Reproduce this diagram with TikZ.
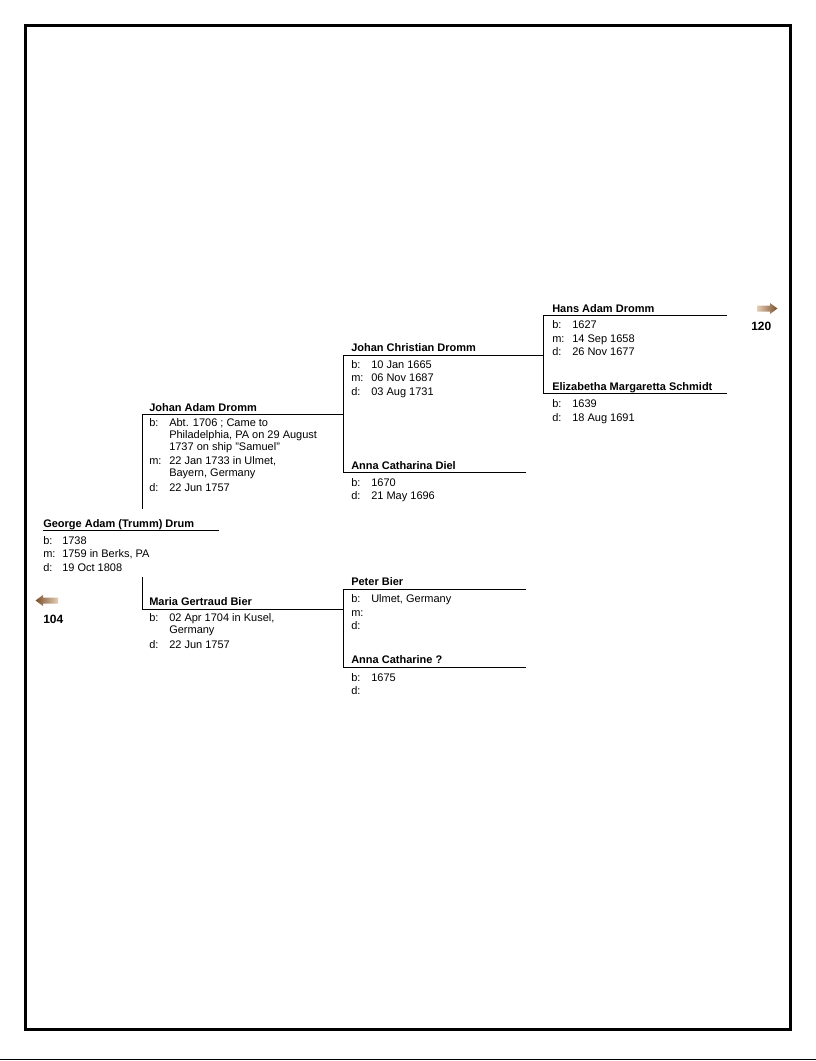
\documentclass[tikz,border=0pt]{standalone}
\usepackage{fontspec}
\setmainfont{Liberation Sans}
\definecolor{arrowdark}{RGB}{122,80,44}
\definecolor{arrowlight}{RGB}{228,206,182}

\tikzset{%
  % Specifications for style of nodes:
        person/.style = {anchor=base west, inner sep=0pt, font=\fontsize{8.25pt}{10pt}\selectfont\bfseries},
        detail/.style = {anchor=base west, inner sep=0pt, font=\fontsize{8.25pt}{10pt}\selectfont},
       pagenum/.style = {anchor=base west, inner sep=0pt, font=\fontsize{9pt}{11pt}\selectfont\bfseries},
          link/.style = {line width=0.75pt},
     nextarrow/.style = {left color=arrowlight, right color=arrowdark},
     prevarrow/.style = {left color=arrowdark, right color=arrowlight},
}

\begin{document}
\begin{tikzpicture}[x=0.75pt, y=-0.75pt]
    \useasboundingbox (0,0) rectangle (816,1061);

    % Page frame
    \draw[line width=2.25pt] (25.5,25.5) rectangle (790.5,1029.5);
    \draw[line width=1.2pt] (0,1059.5) -- (816,1059.5);

    % Line ends
    \coordinate (george-l)    at (43,530.5);  \coordinate (george-r)    at (219,530.5);
    \coordinate (george-up)   at (142,509);   \coordinate (george-down) at (142,577);
    \coordinate (johanadam-l) at (142,414);   \coordinate (johanadam-r) at (343,414);
    \coordinate (maria-l)     at (142,609);   \coordinate (maria-r)     at (343,609);
    \coordinate (johanchr-l)  at (343,355);   \coordinate (johanchr-r)  at (543,355);
    \coordinate (annadiel-l)  at (343,472);   \coordinate (annadiel-r)  at (526,472);
    \coordinate (peter-l)     at (343,589);   \coordinate (peter-r)     at (526,589);
    \coordinate (annacath-l)  at (343,667);   \coordinate (annacath-r)  at (526,667);
    \coordinate (hans-l)      at (543,315);   \coordinate (hans-r)      at (727,315);
    \coordinate (eliz-l)      at (543,393);   \coordinate (eliz-r)      at (727,393);

    % Draw nodes
    \node (george)    [person] at (43,527.5)  {George Adam (Trumm) Drum};
    \foreach \lab/\val/\yy [count=\i] in {b:/1738/544.5, m:/{1759 in Berks, PA}/557.5, d:/19 Oct 1808/571}
      {\node (george-t\i) [detail] at (43,\yy) {\lab};
       \node (george-v\i) [detail] at (62,\yy) {\val};}

    \node (johanadam) [person] at (149,411)   {Johan Adam Dromm};
    \foreach \lab/\val/\yy [count=\i] in {b:/Abt. 1706 ; Came to/426.5, /{Philadelphia, PA on 29 August}/438.5,
        /1737 on ship "Samuel"/450, m:/{22 Jan 1733 in Ulmet,}/464.5, /{Bayern, Germany}/476, d:/22 Jun 1757/491}
      {\node (johanadam-t\i) [detail] at (149,\yy) {\lab};
       \node (johanadam-v\i) [detail] at (169,\yy) {\val};}

    \node (maria)     [person] at (149,605.5) {Maria Gertraud Bier};
    \foreach \lab/\val/\yy [count=\i] in {b:/{02 Apr 1704 in Kusel,}/621.5, /Germany/633, d:/22 Jun 1757/648}
      {\node (maria-t\i) [detail] at (149,\yy) {\lab};
       \node (maria-v\i) [detail] at (169,\yy) {\val};}

    \node (johanchr)  [person] at (351,351.5) {Johan Christian Dromm};
    \foreach \lab/\val/\yy [count=\i] in {b:/10 Jan 1665/368, m:/06 Nov 1687/381.5, d:/03 Aug 1731/395}
      {\node (johanchr-t\i) [detail] at (351,\yy) {\lab};
       \node (johanchr-v\i) [detail] at (371,\yy) {\val};}

    \node (annadiel)  [person] at (351,469)   {Anna Catharina Diel};
    \foreach \lab/\val/\yy [count=\i] in {b:/1670/486, d:/21 May 1696/499.5}
      {\node (annadiel-t\i) [detail] at (351,\yy) {\lab};
       \node (annadiel-v\i) [detail] at (371,\yy) {\val};}

    \node (peter)     [person] at (351,585.5) {Peter Bier};
    \foreach \lab/\val/\yy [count=\i] in {b:/{Ulmet, Germany}/602.5, m://616, d://629.5}
      {\node (peter-t\i) [detail] at (351,\yy) {\lab};
       \node (peter-v\i) [detail] at (371,\yy) {\val};}

    \node (annacath)  [person] at (351,663)   {Anna Catharine ?};
    \foreach \lab/\val/\yy [count=\i] in {b:/1675/681.5, d://694.5}
      {\node (annacath-t\i) [detail] at (351,\yy) {\lab};
       \node (annacath-v\i) [detail] at (371,\yy) {\val};}

    \node (hans)      [person] at (552,312)   {Hans Adam Dromm};
    \foreach \lab/\val/\yy [count=\i] in {b:/1627/328.5, m:/14 Sep 1658/342, d:/26 Nov 1677/355.5}
      {\node (hans-t\i) [detail] at (552,\yy) {\lab};
       \node (hans-v\i) [detail] at (572,\yy) {\val};}

    \node (eliz)      [person] at (552,390)   {Elizabetha Margaretta Schmidt};
    \foreach \lab/\val/\yy [count=\i] in {b:/1639/407.5, d:/18 Aug 1691/421}
      {\node (eliz-t\i) [detail] at (552,\yy) {\lab};
       \node (eliz-v\i) [detail] at (572,\yy) {\val};}

    \node (next)      [pagenum] at (751,330)  {120};
    \node (prev)      [pagenum] at (43,623.5) {104};

    % Draw lines
    \draw[link] (george-l) -- (george-r);
    \draw[link] (george-up) -- (johanadam-l) -- (johanadam-r);
    \draw[link] (george-down) -- (maria-l) -- (maria-r);
    \draw[link] (annadiel-r) -- (annadiel-l) -- (johanchr-l) -- (johanchr-r);
    \draw[link] (annacath-r) -- (annacath-l) -- (peter-l) -- (peter-r);
    \draw[link] (eliz-r) -- (eliz-l) -- (hans-l) -- (hans-r);

    % Draw arrows
    \shade[nextarrow] (757,305.5) -- (770,305.5) -- (770,303) -- (777.5,308.5) -- (770,314) -- (770,311.5) -- (757,311.5) -- cycle;
    \shade[prevarrow] (35.5,600.5) -- (43,595) -- (43,597.5) -- (58,597.5) -- (58,603.5) -- (43,603.5) -- (43,606) -- cycle;
\end{tikzpicture}
\end{document}
